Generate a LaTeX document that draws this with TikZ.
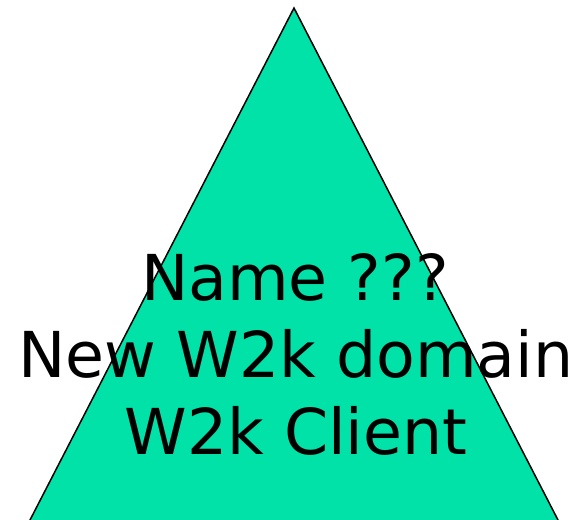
\documentclass[tikz,border=0pt]{standalone}
\usepackage{fontspec}
\setmainfont{DejaVu Sans}
\usetikzlibrary{calc}
\definecolor{trifill}{HTML}{00E2A8}
\begin{document}
\begin{tikzpicture}[x=1pt,y=-1pt,
  lbl/.style={anchor=base,inner sep=0pt,font=\fontsize{63.3}{77}\selectfont}]
\useasboundingbox (0,0) rectangle (582,520);
\coordinate (apex) at (294,8);
\coordinate (bl) at (30,520);
\coordinate (br) at (558,520);
\begin{scope}
\clip (0,0) rectangle (582,520);
\draw[fill=trifill,line width=1.5pt,line join=miter] (apex) -- ($(apex)!1.03!(br)$) -- ($(apex)!1.03!(bl)$) -- cycle;
\end{scope}
\node[lbl] (l1) at (295,300) {Name ???};
\node[lbl] (l2) at (296,377) {New W2k domain};
\node[lbl] (l3) at (296,454) {W2k Client};
\end{tikzpicture}
\end{document}
